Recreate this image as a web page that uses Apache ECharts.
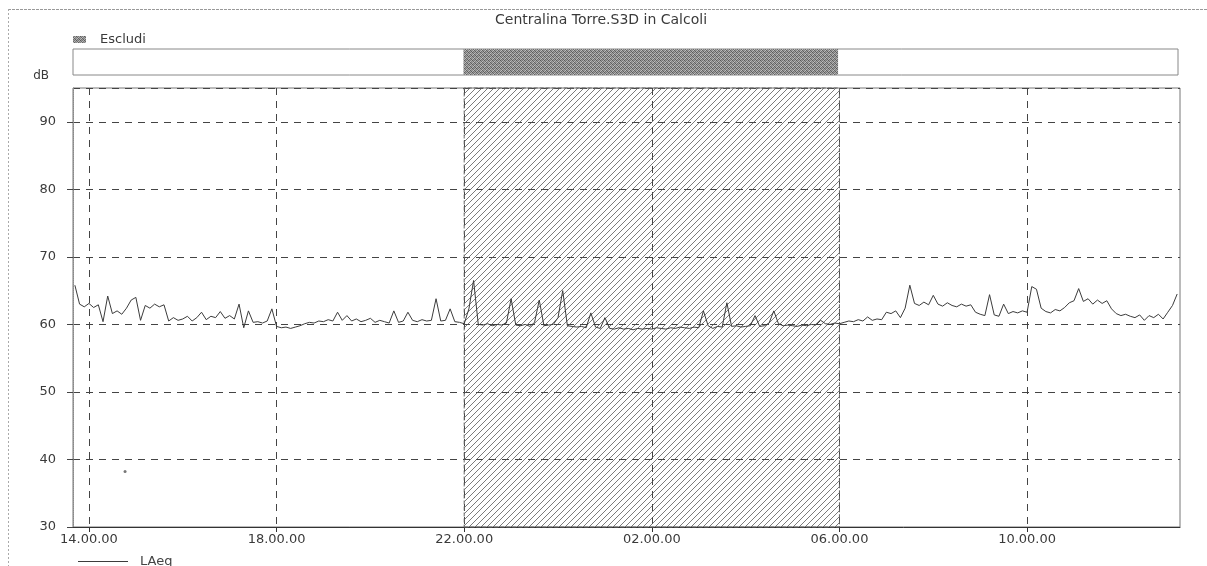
<!DOCTYPE html>
<html>
<head>
<meta charset="utf-8">
<script src="https://cdn.jsdelivr.net/npm/echarts@6/dist/echarts.min.js"></script>
<style>
html,body{margin:0;padding:0;background:#fff;}
#chart{width:1207px;height:566px;}
</style>
</head>
<body>
<div id="chart"></div>
<script>
// ---------- DATA ----------
const chartTitle = 'Centralina Torre.S3D in Calcoli';
const seriesName = 'LAeq';
const excludeName = 'Escludi';
const yUnit = 'dB';
// sampling grid (hours from midnight of day 1; >24 = next day)
const startHour = 13.7;
const stepHour = 0.1;
const xMinHour = 13.66;
const xMaxHour = 37.26;
const tickHours = [14, 18, 22, 26, 30, 34];
const yMin = 30, yMax = 95, yStep = 10;
// excluded (night) period
const excludeStart = 22;
const excludeEnd = 30;
// isolated low reading
const outlierPoint = [14.77, 38.2];
// LAeq values (dB), one per 0.1 h starting 13.7
const laeq = [
  65.8, 63.0, 62.6,
  63.1, 62.5, 62.9, 60.4, 64.2, 61.6, 62.0, 61.5, 62.4, 63.6,   // 14
  64.0, 60.6, 62.8, 62.4, 63.0, 62.6, 62.9, 60.5, 61.0, 60.6,   // 15
  60.8, 61.2, 60.5, 61.0, 61.8, 60.7, 61.2, 61.0, 61.9, 60.9,   // 16
  61.3, 60.8, 63.0, 59.5, 62.0, 60.3, 60.4, 60.2, 60.5, 62.3,   // 17
  59.7, 59.5, 59.6, 59.4, 59.6, 59.8, 60.1, 60.3, 60.2, 60.5,   // 18
  60.4, 60.7, 60.5, 61.8, 60.6, 61.3, 60.5, 60.8, 60.4, 60.6,   // 19
  60.9, 60.3, 60.6, 60.4, 60.2, 62.0, 60.3, 60.5, 61.8, 60.6,   // 20
  60.4, 60.7, 60.5, 60.6, 63.8, 60.5, 60.6, 62.3, 60.4, 60.3,   // 21
  60.1, 62.3, 66.5, 60.0, 59.9, 60.1, 59.8, 60.0, 59.9, 60.2,   // 22
  63.8, 59.9, 59.8, 60.0, 59.7, 60.3, 63.6, 59.8, 59.9, 60.0,   // 23
  61.0, 65.0, 59.8, 59.7, 59.6, 59.7, 59.5, 61.7, 59.6, 59.4,   // 00
  61.0, 59.4, 59.3, 59.5, 59.3, 59.4, 59.2, 59.4, 59.3, 59.4,   // 01
  59.3, 59.5, 59.4, 59.3, 59.5, 59.4, 59.6, 59.5, 59.4, 59.6,   // 02
  59.5, 62.0, 59.8, 59.4, 59.7, 59.6, 63.2, 59.7, 59.8, 59.6,   // 03
  59.7, 59.8, 61.3, 59.7, 59.8, 60.2, 62.0, 60.1, 59.8, 59.9,   // 04
  59.8, 59.7, 59.9, 59.8, 60.0, 59.9, 60.6, 60.1, 60.0, 60.2,   // 05
  60.1, 60.3, 60.5, 60.4, 60.7, 60.5, 61.1, 60.6, 60.8, 60.7,   // 06
  61.8, 61.6, 62.0, 61.0, 62.4, 65.8, 63.1, 62.8, 63.3, 62.9,   // 07
  64.3, 63.0, 62.7, 63.2, 62.8, 62.6, 63.0, 62.7, 62.9, 61.8,   // 08
  61.5, 61.3, 64.4, 61.4, 61.2, 63.0, 61.6, 61.9, 61.7, 62.0,   // 09
  61.8, 65.6, 65.2, 62.4, 61.9, 61.7, 62.2, 62.0, 62.5, 63.2,   // 10
  63.5, 65.3, 63.4, 63.8, 63.0, 63.6, 63.1, 63.5, 62.3, 61.6,   // 11
  61.3, 61.5, 61.2, 61.0, 61.4, 60.6, 61.3, 61.0, 61.5, 60.8,   // 12
  61.8, 62.8, 64.5                                              // 13
];

// ---------- helpers ----------
const lineData = laeq.map((v, i) => [+(startHour + i * stepHour).toFixed(2), v]);
function hourLabel(v) {
  const h = ((Math.round(v) % 24) + 24) % 24;
  return (h < 10 ? '0' : '') + h + '.00.00';
}
function hatchPattern() {
  const s = 6;
  const c = document.createElement('canvas');
  c.width = s; c.height = s;
  const g = c.getContext('2d');
  g.strokeStyle = '#505050';
  g.lineWidth = 0.75;
  g.beginPath();
  g.moveTo(-1, s + 1); g.lineTo(s + 1, -1);
  g.moveTo(-1, 1); g.lineTo(1, -1);
  g.moveTo(s - 1, s + 1); g.lineTo(s + 1, s - 1);
  g.stroke();
  return { image: c, repeat: 'repeat' };
}
function stipplePattern() {
  const shades = ['#5a5a5a', '#9a9a9a', '#777', '#b0b0b0',
                  '#a5a5a5', '#6a6a6a', '#bcbcbc', '#808080',
                  '#888', '#c0c0c0', '#626262', '#999',
                  '#b5b5b5', '#707070', '#a0a0a0', '#5e5e5e'];
  const c = document.createElement('canvas');
  c.width = 4; c.height = 4;
  const g = c.getContext('2d');
  for (let i = 0; i < 16; i++) {
    g.fillStyle = shades[i];
    g.fillRect(i % 4, Math.floor(i / 4), 1, 1);
  }
  return { image: c, repeat: 'repeat' };
}
const FONT = 'DejaVu Sans';
const hatch = hatchPattern();
const stipple = stipplePattern();

const chart = echarts.init(document.getElementById('chart'), null, { renderer: 'canvas' });
chart.setOption({
  animation: false,
  backgroundColor: '#fff',
  textStyle: { fontFamily: FONT },
  title: {
    text: chartTitle,
    left: 490, top: 8,
    textStyle: { fontFamily: FONT, fontSize: 14, fontWeight: 'normal', color: '#3a3a3a' }
  },
  legend: {
    data: [seriesName],
    left: 73, top: 550,
    icon: 'rect',
    itemWidth: 50, itemHeight: 1,
    itemGap: 0,
    textStyle: { fontFamily: FONT, fontSize: 13, color: '#444', padding: [0, 0, 0, 7] }
  },
  grid: [
    { left: 73, right: 27, top: 88, bottom: 39, show: true, borderColor: '#777', borderWidth: 1, backgroundColor: 'transparent' },
    { left: 73, right: 29, top: 49, height: 26, show: true, borderColor: '#888', borderWidth: 1, backgroundColor: 'transparent' }
  ],
  xAxis: [
    {
      type: 'value', gridIndex: 0, min: xMinHour, max: xMaxHour,
      axisLine: { show: true, lineStyle: { color: '#333', width: 1 } },
      axisTick: { show: true, customValues: tickHours, length: 5, lineStyle: { color: '#333' } },
      axisLabel: { customValues: tickHours, formatter: hourLabel, color: '#3a3a3a', fontSize: 13, fontFamily: FONT, margin: 6 },
      splitLine: { show: true, lineStyle: { color: '#444', type: [7, 6], width: 1 } }
    },
    {
      type: 'value', gridIndex: 1, min: xMinHour, max: xMaxHour, show: false
    }
  ],
  yAxis: [
    {
      type: 'value', gridIndex: 0, min: yMin, max: yMax, interval: yStep,
      name: yUnit, nameLocation: 'end', nameGap: 6,
      nameTextStyle: { fontFamily: FONT, fontSize: 12, color: '#3a3a3a', align: 'right', padding: [0, 24, 0, 0] },
      axisLine: { show: true, lineStyle: { color: '#888', type: 'dotted' } },
      axisTick: { show: true, length: 6, lineStyle: { color: '#444' } },
      axisLabel: { color: '#3a3a3a', fontSize: 13, fontFamily: FONT, margin: 17, showMaxLabel: false },
      splitLine: { show: true, lineStyle: { color: '#444', type: [7, 6], width: 1 } }
    },
    {
      type: 'value', gridIndex: 1, min: 0, max: 1, show: false
    }
  ],
  series: [
    {
      name: seriesName,
      type: 'line',
      xAxisIndex: 0, yAxisIndex: 0,
      data: lineData,
      symbol: 'none',
      lineStyle: { color: '#3c3c3c', width: 1 },
      itemStyle: { color: '#3c3c3c' },
      z: 5,
      markArea: {
        silent: true,
        itemStyle: { color: hatch, borderColor: '#666', borderWidth: 1, borderType: 'dashed' },
        data: [[{ xAxis: excludeStart }, { xAxis: excludeEnd }]]
      }
    },
    {
      name: 'outlier',
      type: 'scatter',
      xAxisIndex: 0, yAxisIndex: 0,
      data: [outlierPoint],
      symbolSize: 3,
      itemStyle: { color: '#555' },
      z: 6
    },
    {
      name: excludeName,
      type: 'line',
      xAxisIndex: 1, yAxisIndex: 1,
      data: [],
      symbol: 'none',
      markArea: {
        silent: true,
        itemStyle: { color: stipple },
        data: [[{ xAxis: excludeStart, yAxis: 0 }, { xAxis: excludeEnd, yAxis: 1 }]]
      }
    }
  ],
  graphic: [
    { type: 'line', shape: { x1: 8, y1: 9.5, x2: 1207, y2: 9.5 }, style: { stroke: '#999', lineWidth: 1, lineDash: [3, 1] }, silent: true },
    { type: 'line', shape: { x1: 8.5, y1: 9, x2: 8.5, y2: 566 }, style: { stroke: '#aaa', lineWidth: 1, lineDash: [2, 2] }, silent: true },
    { type: 'rect', shape: { x: 73, y: 36, width: 13, height: 7 }, style: { fill: stipple }, silent: true },
    { type: 'text', x: 100, y: 33, style: { text: excludeName, font: '13px "DejaVu Sans"', fill: '#3a3a3a' }, silent: true }
  ]
});
</script>
</body>
</html>
